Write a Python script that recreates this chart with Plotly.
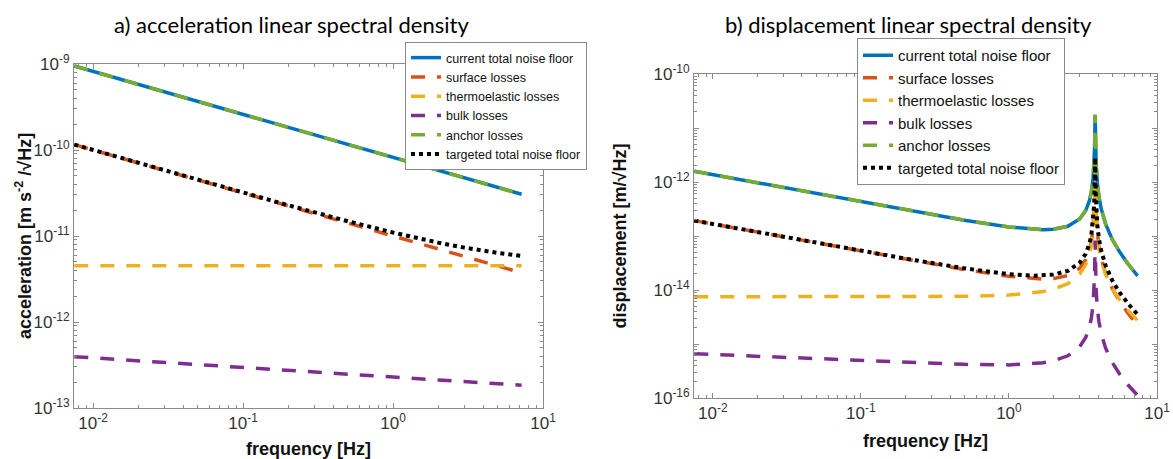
import plotly.graph_objects as go

# ---------------- data: a) acceleration linear spectral density ----------------
freq_acc = [0.0075, 0.01, 0.02, 0.05, 0.1, 0.2, 0.5, 1, 2, 3, 5, 7.2]
acc_current = [9.47e-10, 8.2e-10, 5.8e-10, 3.67e-10, 2.59e-10, 1.83e-10, 1.16e-10,
               8.2e-11, 5.8e-11, 4.73e-11, 3.67e-11, 3.06e-11]
acc_surface = [1.155e-10, 1.0e-10, 7.07e-11, 4.47e-11, 3.16e-11, 2.24e-11, 1.41e-11,
               1.0e-11, 7.07e-12, 5.77e-12, 4.47e-12, 3.73e-12]
acc_thermo = [4.5e-12, 4.5e-12, 4.5e-12, 4.5e-12, 4.5e-12, 4.5e-12, 4.5e-12,
              4.5e-12, 4.5e-12, 4.5e-12, 4.5e-12, 4.5e-12]
acc_bulk = [3.95e-13, 3.83e-13, 3.54e-13, 3.20e-13, 2.96e-13, 2.74e-13, 2.48e-13,
            2.29e-13, 2.12e-13, 2.03e-13, 1.92e-13, 1.84e-13]
acc_anchor = [9.47e-10, 8.2e-10, 5.8e-10, 3.67e-10, 2.59e-10, 1.83e-10, 1.16e-10,
              8.2e-11, 5.8e-11, 4.73e-11, 3.67e-11, 3.06e-11]
acc_target = [1.156e-10, 1.001e-10, 7.085e-11, 4.495e-11, 3.19e-11, 2.28e-11, 1.484e-11,
              1.097e-11, 8.38e-12, 7.32e-12, 6.35e-12, 5.85e-12]

# ---------------- data: b) displacement linear spectral density ----------------
freq_disp = [0.0075, 0.01, 0.02, 0.05, 0.1, 0.2, 0.5, 1, 1.5, 1.7, 2, 2.5, 3, 3.3, 3.5,
             3.6, 3.7, 3.76, 3.79, 3.82, 3.85, 3.88, 3.95, 4.05, 4.2, 4.5, 5, 5.6, 6.4, 7.4]
disp_current = [1.578e-12, 1.367e-12, 9.664e-13, 6.113e-13, 4.325e-13, 3.064e-13, 1.966e-13,
                1.467e-13, 1.319e-13, 1.307e-13, 1.331e-13, 1.512e-13, 2.059e-13, 2.965e-13,
                4.551e-13, 6.440e-13, 1.149e-12, 2.245e-12, 4.353e-12, 1.748e-11, 4.274e-12,
                2.172e-12, 9.929e-13, 5.473e-13, 3.193e-13, 1.661e-13, 8.569e-14, 5.026e-14,
                2.990e-14, 1.825e-14]
disp_surface = [1.925e-13, 1.667e-13, 1.179e-13, 7.455e-14, 5.274e-14, 3.737e-14, 2.398e-14,
                1.789e-14, 1.609e-14, 1.594e-14, 1.624e-14, 1.844e-14, 2.511e-14, 3.616e-14,
                5.551e-14, 7.854e-14, 1.402e-13, 2.738e-13, 5.308e-13, 2.132e-12, 5.212e-13,
                2.649e-13, 1.211e-13, 6.675e-14, 3.893e-14, 2.026e-14, 1.045e-14, 6.129e-15,
                3.646e-15, 2.226e-15]
disp_thermo = [7.500e-15, 7.500e-15, 7.500e-15, 7.501e-15, 7.505e-15, 7.520e-15, 7.631e-15,
               8.052e-15, 8.867e-15, 9.352e-15, 1.0332e-14, 1.3119e-14, 1.9571e-14, 2.9562e-14,
               4.673e-14, 6.706e-14, 1.2133e-13, 2.389e-13, 4.650e-13, 1.875e-12, 4.602e-13,
               2.348e-13, 1.0830e-13, 6.045e-14, 3.591e-14, 1.934e-14, 1.0515e-14, 6.527e-15,
               4.151e-15, 2.725e-15]
disp_bulk = [6.583e-16, 6.377e-16, 5.905e-16, 5.334e-16, 4.942e-16, 4.584e-16, 4.202e-16,
             4.106e-16, 4.323e-16, 4.495e-16, 4.879e-16, 6.044e-16, 8.833e-16, 1.3204e-15,
             2.0737e-15, 2.967e-15, 5.352e-15, 1.0516e-14, 2.045e-14, 8.242e-14, 2.021e-14,
             1.0300e-14, 4.741e-15, 2.640e-15, 1.5615e-15, 8.347e-16, 4.484e-16, 2.749e-16,
             1.722e-16, 1.1129e-16]
disp_anchor = [1.578e-12, 1.367e-12, 9.664e-13, 6.113e-13, 4.325e-13, 3.064e-13, 1.966e-13,
               1.467e-13, 1.319e-13, 1.307e-13, 1.331e-13, 1.512e-13, 2.059e-13, 2.965e-13,
               4.551e-13, 6.440e-13, 1.149e-12, 2.245e-12, 4.353e-12, 1.748e-11, 4.274e-12,
               2.172e-12, 9.929e-13, 5.473e-13, 3.193e-13, 1.661e-13, 8.569e-14, 5.026e-14,
               2.990e-14, 1.825e-14]
disp_target = [1.926e-13, 1.669e-13, 1.181e-13, 7.493e-14, 5.327e-14, 3.812e-14, 2.517e-14,
               1.962e-14, 1.837e-14, 1.848e-14, 1.925e-14, 2.263e-14, 3.184e-14, 4.671e-14,
               7.256e-14, 1.0327e-13, 1.854e-13, 3.634e-13, 7.057e-13, 2.839e-12, 6.953e-13,
               3.540e-13, 1.625e-13, 9.005e-14, 5.296e-14, 2.801e-14, 1.483e-14, 8.954e-15,
               5.525e-15, 3.519e-15]

series_names = ["current total noise floor", "surface losses", "thermoelastic losses",
                "bulk losses", "anchor losses", "targeted total noise floor"]
series_colors = ["#0072BD", "#D95319", "#EDB120", "#7E2F8E", "#77AC30", "#000000"]

acc_tick_vals = [1e-13, 1e-12, 1e-11, 1e-10, 1e-9]
acc_tick_text = ["10<sup>-13</sup>", "10<sup>-12</sup>", "10<sup>-11</sup>",
                 "10<sup>-10</sup>", "10<sup>-9</sup>"]
disp_tick_vals = [1e-16, 1e-15, 1e-14, 1e-13, 1e-12, 1e-11, 1e-10]
disp_tick_text = ["10<sup>-16</sup>", "", "10<sup>-14</sup>", "", "10<sup>-12</sup>", "",
                  "10<sup>-10</sup>"]
freq_tick_vals = [1e-2, 1e-1, 1e0, 1e1]
freq_tick_text = ["10<sup>-2</sup>", "10<sup>-1</sup>", "10<sup>0</sup>", "10<sup>1</sup>"]

# ---------------- figure ----------------
W, H = 1173, 459
fig = go.Figure()

dash_pat = "14px,12px"
styles = [
    dict(width=3.5, dash="solid"),
    dict(width=3.5, dash=dash_pat),
    dict(width=3.5, dash=dash_pat),
    dict(width=3.5, dash=dash_pat),
    dict(width=3.5, dash=dash_pat),
    dict(width=4, dash="dot"),
]

acc_series = [acc_current, acc_surface, acc_thermo, acc_bulk, acc_anchor, acc_target]
disp_series = [disp_current, disp_surface, disp_thermo, disp_bulk, disp_anchor, disp_target]

for name, col, st, ys in zip(series_names, series_colors, styles, acc_series):
    fig.add_trace(go.Scatter(x=freq_acc, y=ys, mode="lines", name=name,
                             line=dict(color=col, **st), xaxis="x", yaxis="y",
                             legend="legend"))
for name, col, st, ys in zip(series_names, series_colors, styles, disp_series):
    fig.add_trace(go.Scatter(x=freq_disp, y=ys, mode="lines", name=name,
                             line=dict(color=col, **st), xaxis="x2", yaxis="y2",
                             legend="legend2"))

axis_col = "#8a8a8a"
sans = "Arial, Liberation Sans, sans-serif"
tick_font = dict(family=sans, size=17, color="#333333")
title_font = dict(family=sans, size=18, color="#111111")

minor_x = [m * 10.0 ** e for e in range(-3, 1) for m in range(2, 10)]
minor_acc = [m * 10.0 ** e for e in range(-13, -9) for m in range(2, 10)]
minor_disp = [m * 10.0 ** e for e in range(-16, -10) for m in range(2, 10)]


def xaxis_cfg(domain, anchor):
    return dict(type="log", domain=domain, anchor=anchor, range=[-2.127, 1],
                automargin=False,
                tickmode="array", tickvals=freq_tick_vals, ticktext=freq_tick_text,
                ticks="inside", ticklen=5, tickcolor=axis_col, showline=True,
                linecolor=axis_col, linewidth=1, mirror="ticks", showgrid=False,
                zeroline=False, tickfont=tick_font,
                minor=dict(tickmode="array", tickvals=minor_x, ticks="inside", ticklen=3,
                           tickcolor=axis_col, showgrid=False),
                title=dict(text="<b>frequency [Hz]</b>", font=title_font, standoff=11))


def yaxis_cfg(domain, anchor, rng, tv, tt, minor_vals, title, standoff):
    return dict(type="log", domain=domain, anchor=anchor, range=rng,
                automargin=False,
                tickmode="array", tickvals=tv, ticktext=tt,
                ticks="inside", ticklen=5, tickcolor=axis_col, showline=True,
                linecolor=axis_col, linewidth=1, mirror="ticks", showgrid=False,
                zeroline=False, tickfont=tick_font,
                minor=dict(tickmode="array", tickvals=minor_vals, ticks="inside", ticklen=3,
                           tickcolor=axis_col, showgrid=False),
                title=dict(text=title, font=title_font, standoff=standoff))


fig.update_layout(
    width=W, height=H, margin=dict(l=0, r=0, t=0, b=0, autoexpand=False),
    paper_bgcolor="white", plot_bgcolor="white",
    xaxis=xaxis_cfg([74 / W, 543 / W], "y"),
    yaxis=yaxis_cfg([1 - 408 / H, 1 - 64 / H], "x", [-13, -9], acc_tick_vals, acc_tick_text,
                    minor_acc, "", 0),
    xaxis2=xaxis_cfg([694 / W, 1157 / W], "y2"),
    yaxis2=yaxis_cfg([1 - 398 / H, 1 - 74 / H], "x2", [-16, -10], disp_tick_vals, disp_tick_text,
                     minor_disp, "<b>displacement [m/√Hz]</b>", 22),
    legend=dict(x=405 / W, y=1 - 42 / H, xanchor="left", yanchor="top",
                bgcolor="white", bordercolor="#8a8a8a", borderwidth=1,
                font=dict(family=sans, size=12.5, color="#111"),
                tracegroupgap=0, itemwidth=30),
    legend2=dict(x=857 / W, y=1 - 38 / H, xanchor="left", yanchor="top",
                 bgcolor="white", bordercolor="#8a8a8a", borderwidth=1,
                 font=dict(family=sans, size=15, color="#111"),
                 tracegroupgap=0, itemwidth=30),
    annotations=[
        dict(text="a) acceleration linear spectral density", x=291 / W, y=1 - 25 / H,
             xref="paper", yref="paper", xanchor="center", yanchor="middle",
             showarrow=False, font=dict(family="Lato, sans-serif", size=22, color="#000")),
        dict(text="b) displacement linear spectral density", x=908 / W, y=1 - 25 / H,
             xref="paper", yref="paper", xanchor="center", yanchor="middle",
             showarrow=False, font=dict(family="Lato, sans-serif", size=22, color="#000")),
        dict(text="<b>acceleration [m s<sup>-2</sup> /√Hz]</b>", x=23 / W, y=1 - 236 / H,
             xref="paper", yref="paper", xanchor="center", yanchor="middle",
             textangle=-90, showarrow=False, font=title_font),
    ],
    showlegend=True,
)

fig.write_html("out.html", config={"displayModeBar": False},
               post_script="document.body.style.margin='0px';document.body.style.padding='0px';")
